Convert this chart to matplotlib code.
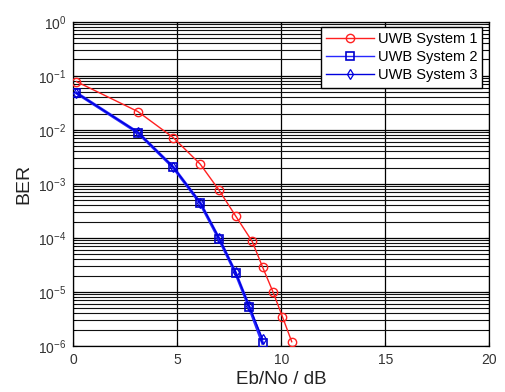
import matplotlib
matplotlib.use("Agg")
import matplotlib.pyplot as plt
import numpy as np
from matplotlib.ticker import LogLocator, NullFormatter, FixedLocator

plt.rcParams['font.family'] = ['Liberation Sans', 'DejaVu Sans']
plt.rcParams['mathtext.fontset'] = 'custom'
plt.rcParams['mathtext.rm'] = 'Liberation Sans'

# Data
ebno_1 = [0.15, 3.1, 4.8, 6.1, 7.0, 7.8, 8.6, 9.1, 9.6, 10.05, 10.5]
ber_1 = [0.078, 0.0218, 0.0072, 0.00232, 7.7e-4, 2.56e-4, 8.6e-5, 2.88e-5, 1.0e-5, 3.5e-6, 1.2e-6]

ebno_2 = [0.15, 3.1, 4.8, 6.1, 7.0, 7.8, 8.45, 9.1]
ber_2 = [0.048, 0.0089, 0.00203, 4.4e-4, 9.7e-5, 2.25e-5, 5.3e-6, 1.13e-6]

ebno_3 = [0.15, 3.1, 4.8, 6.1, 7.0, 7.8, 8.45, 9.1]
ber_3 = [0.048, 0.0090, 0.00205, 4.5e-4, 1.0e-4, 2.3e-5, 5.5e-6, 1.35e-6]

labels = ['UWB System 1', 'UWB System 2', 'UWB System 3']
xticks = [0, 5, 10, 15, 20]

fig = plt.figure(figsize=(5.05, 3.92), dpi=100)
ax = fig.add_axes([0.1452, 0.1173, 0.969 - 0.1452, 0.9446 - 0.1173])

ax.set_yscale('log')
ax.set_xlim(0, 20)
ax.set_ylim(1e-6, 1)

l1, = ax.plot(ebno_1, ber_1, color='#ff2020', lw=1.0, marker='o', ms=6,
              mfc='none', mec='#ff2020', mew=1.0, label=labels[0], zorder=3)
l2, = ax.plot(ebno_2, ber_2, color='#2828ff', lw=2.2, marker='s', ms=6,
              mfc='none', mec='#0000cc', mew=1.2, label=labels[1], zorder=3)
l3, = ax.plot(ebno_3, ber_3, color='#0000dd', lw=1.0, marker='d', ms=5,
              mfc='none', mec='#0000dd', mew=0.9, label=labels[2], zorder=4)

ax.xaxis.set_major_locator(FixedLocator(xticks))
ax.yaxis.set_major_locator(LogLocator(base=10, numticks=20))
ax.yaxis.set_minor_locator(LogLocator(base=10, subs=np.arange(2, 10), numticks=100))
ax.yaxis.set_minor_formatter(NullFormatter())

ax.grid(True, which='major', axis='both', color='black', lw=0.9, ls='-')
ax.grid(True, which='minor', axis='y', color='#111111', lw=0.8, ls='-')
ax.set_axisbelow(True)

ax.tick_params(which='both', direction='in', top=True, right=True,
               labelsize=10, labelcolor='#333333')
ax.tick_params(which='major', length=3, pad=5)
ax.tick_params(which='minor', length=2)
for s in ax.spines.values():
    s.set_color('black')
    s.set_linewidth(0.9)

ax.set_xlabel('Eb/No / dB', fontsize=13.5, color='#222222', labelpad=3)
ax.set_ylabel('BER', fontsize=14, color='#222222', labelpad=4)

leg = ax.legend(loc='upper right', bbox_to_anchor=(0.983, 0.985), fontsize=10.5,
                frameon=True, fancybox=False, edgecolor='black', framealpha=1,
                borderpad=0.35, labelspacing=0.3, handlelength=3.3,
                handletextpad=0.25, borderaxespad=0)
leg.get_frame().set_linewidth(1.0)
for h in leg.get_lines():
    h.set_linewidth(1.0)

fig.savefig('out.png', dpi=100)
